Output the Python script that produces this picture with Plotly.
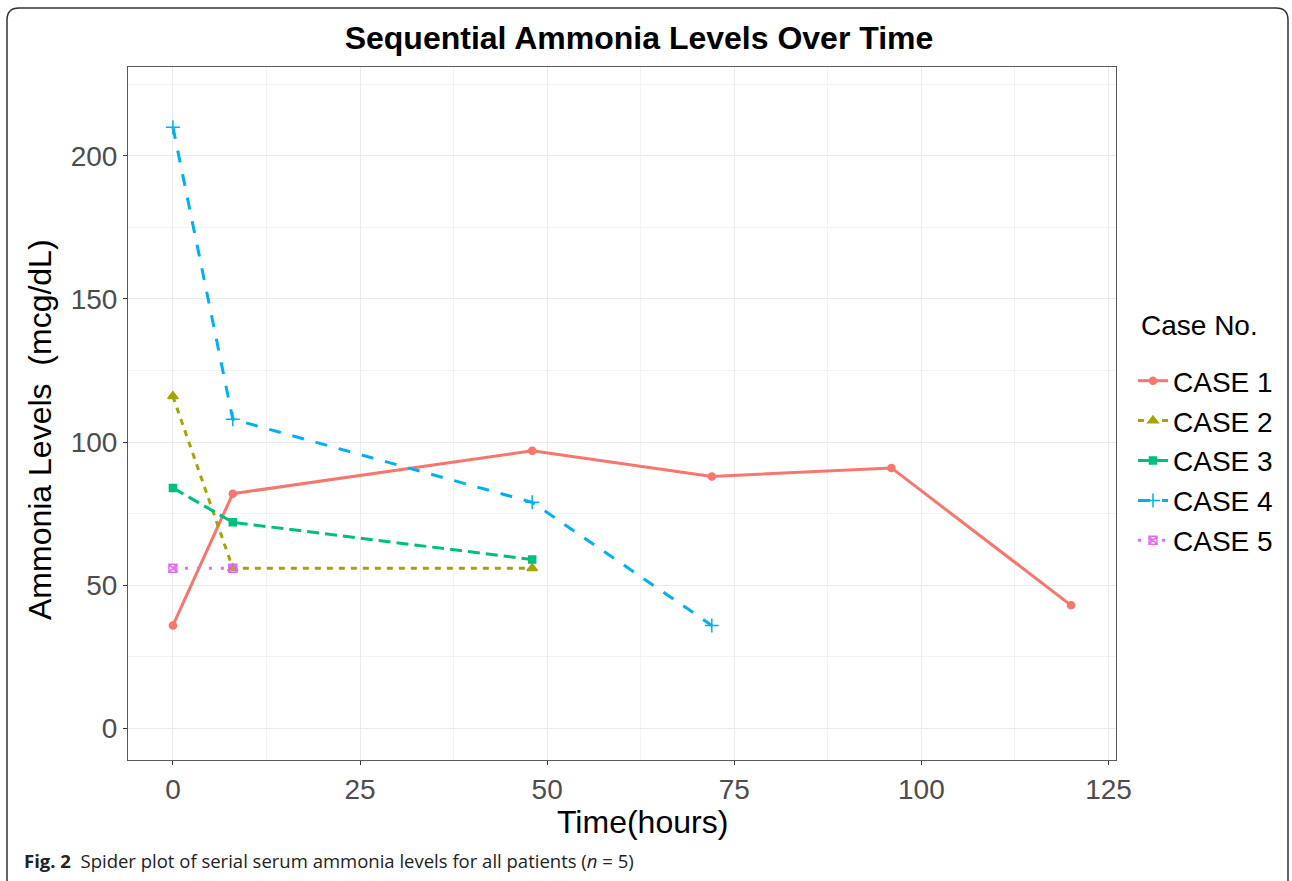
import plotly.graph_objects as go

# Data
case_names = ["CASE 1", "CASE 2", "CASE 3", "CASE 4", "CASE 5"]
case1_hours = [0, 8, 48, 72, 96, 120]
case1_nh3 = [36, 82, 97, 88, 91, 43]
case2_hours = [0, 8, 48]
case2_nh3 = [116, 56, 56]
case3_hours = [0, 8, 48]
case3_nh3 = [84, 72, 59]
case4_hours = [0, 8, 48, 72]
case4_nh3 = [210, 108, 79, 36]
case5_hours = [0, 8]
case5_nh3 = [56, 56]

x_ticks = [0, 25, 50, 75, 100, 125]
y_ticks = [0, 50, 100, 150, 200]

colors = ["#F8766D", "#A3A500", "#00BF7D", "#00B0F6", "#E76BF3"]
dashes = ["solid", "6px,6px", "12px,6px", "12px,12px", "3px,9px"]
symbols = ["circle", "triangle-up", "square", "cross-thin-open", "square-x-open"]
msizes = [7, 9, 7, 10, 8]

series = [
    (case1_hours, case1_nh3),
    (case2_hours, case2_nh3),
    (case3_hours, case3_nh3),
    (case4_hours, case4_nh3),
    (case5_hours, case5_nh3),
]

W, H = 1292, 881
L, R, T, B = 128, 1116, 67, 760

fig = go.Figure()
for i, (name, (xs, ys)) in enumerate(zip(case_names, series)):
    fig.add_trace(go.Scatter(
        x=xs, y=ys, name=name, mode="lines+markers",
        legendgroup=name,
        line=dict(color=colors[i], width=3, dash=dashes[i]),
        marker=dict(color=colors[i], symbol=symbols[i], size=msizes[i],
                    line=dict(color=colors[i], width=1.5)),
    ))

def px2paper_x(px):
    return (px - L) / (R - L)

def px2paper_y(py):
    return (B - py) / (B - T)

# rounded outer border
x0, x1 = px2paper_x(7), px2paper_x(1288)
y0, y1 = px2paper_y(8), px2paper_y(900)
rx = 12 / (R - L)
ry = 12 / (B - T)
path = (f"M {x0},{y1} L {x0},{y0 - ry} Q {x0},{y0} {x0 + rx},{y0} "
        f"L {x1 - rx},{y0} Q {x1},{y0} {x1},{y0 - ry} L {x1},{y1}")

fig.update_layout(
    width=W, height=H,
    margin=dict(l=L, r=W - R, t=T, b=H - B),
    paper_bgcolor="white", plot_bgcolor="white",
    font=dict(family="Liberation Sans, Arial, sans-serif", color="#000000"),
    title=dict(text="<b>Sequential Ammonia Levels Over Time</b>",
               x=639 / W, xanchor="center", y=1 - 38 / H, yanchor="middle",
               xref="container", yref="container",
               font=dict(size=32, color="#000000")),
    xaxis=dict(range=[-6, 126], tickvals=x_ticks, ticks="outside", ticklen=4,
               tickcolor="#333333", tickfont=dict(size=28, color="#4D4D4D"),
               showgrid=True, gridcolor="#EBEBEB", gridwidth=1.2,
               minor=dict(tickvals=[12.5, 37.5, 62.5, 87.5, 112.5], showgrid=True,
                          gridcolor="#F3F3F3", gridwidth=0.8),
               zeroline=False, showline=True, linecolor="#5A5A5A", mirror=True,
               linewidth=1),
    yaxis=dict(range=[-11, 231], tickvals=y_ticks, ticks="outside", ticklen=4,
               tickcolor="#333333", tickfont=dict(size=28, color="#4D4D4D"),
               showgrid=True, gridcolor="#EBEBEB", gridwidth=1.2,
               minor=dict(tickvals=[25, 75, 125, 175, 225], showgrid=True,
                          gridcolor="#F3F3F3", gridwidth=0.8),
               zeroline=False, showline=True, linecolor="#5A5A5A", mirror=True,
               linewidth=1),
    legend=dict(x=px2paper_x(1133), y=px2paper_y(356), xanchor="left", yanchor="top",
                font=dict(size=28, color="#000000"),
                traceorder="grouped", tracegroupgap=0.5,
                itemwidth=30, bgcolor="rgba(0,0,0,0)"),
    shapes=[dict(type="path", xref="paper", yref="paper", path=path,
                 line=dict(color="#333333", width=1.5))],
    annotations=[
        dict(text="Case No.", x=px2paper_x(1139), y=px2paper_y(325), xref="paper",
             yref="paper", xanchor="left", yanchor="middle",
             showarrow=False, font=dict(size=28, color="#000000")),
        dict(text="Time(hours)", x=px2paper_x(642), y=px2paper_y(822), xref="paper",
             yref="paper", xanchor="center", yanchor="middle",
             showarrow=False, font=dict(size=32, color="#000000")),
        dict(text="Ammonia Levels  (mcg/dL)", x=px2paper_x(40), y=px2paper_y(430),
             xref="paper", yref="paper", xanchor="center",
             yanchor="middle", textangle=-90, showarrow=False,
             font=dict(size=32, color="#000000")),
        dict(text="<b>Fig. 2</b>  Spider plot of serial serum ammonia levels for all patients (<i>n</i> = 5)",
             x=px2paper_x(22), y=px2paper_y(860), xref="paper", yref="paper",
             xanchor="left", yanchor="middle", showarrow=False,
             font=dict(size=18.5, color="#222222",
                       family="Open Sans, sans-serif")),
    ],
)

fig.write_html("out.html", config={"displayModeBar": False},
               post_script="document.body.style.margin='0';")
